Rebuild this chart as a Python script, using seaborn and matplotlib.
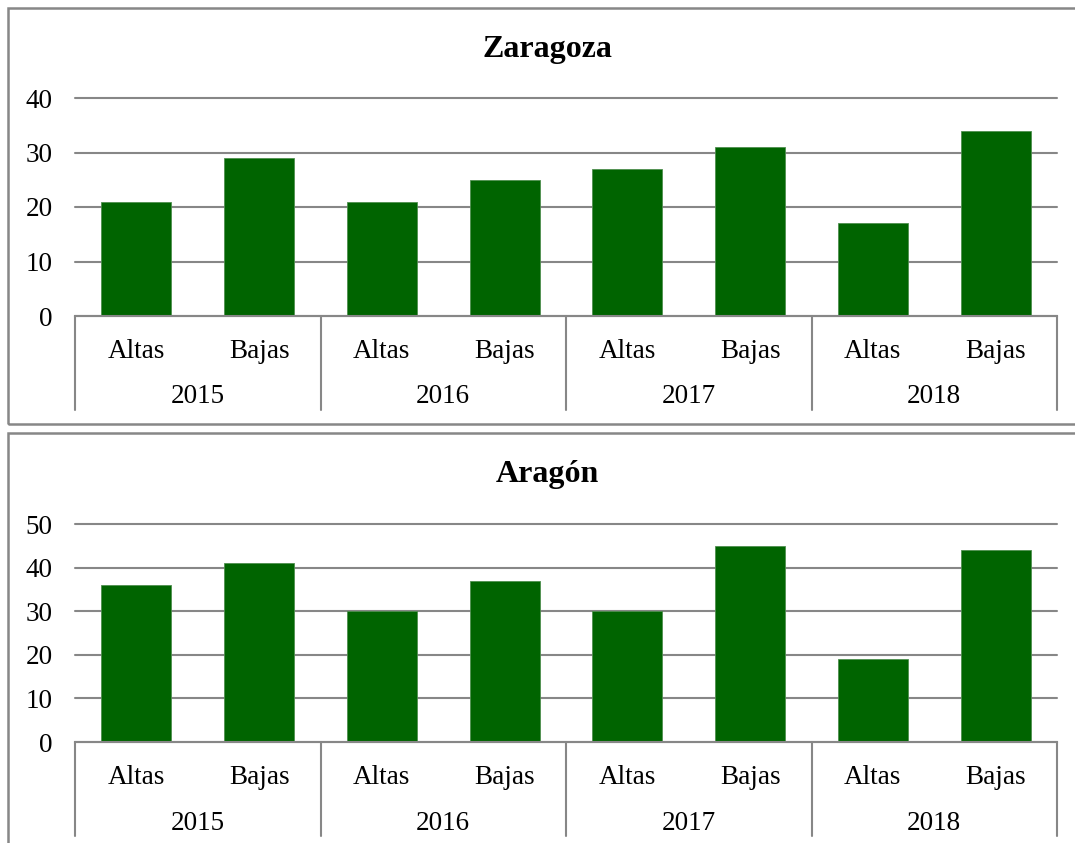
import matplotlib
matplotlib.use("Agg")
import matplotlib.pyplot as plt
import matplotlib.transforms as mtransforms
from matplotlib.patches import Rectangle
import pandas as pd
import seaborn as sns

# datos
anios = ["2015", "2016", "2017", "2018"]
tipos = ["Altas", "Bajas"]
zaragoza = [21, 29, 21, 25, 27, 31, 17, 34]
aragon = [36, 41, 30, 37, 30, 45, 19, 44]

sns.set_theme(style="white")
plt.rcParams["font.family"] = ["Liberation Serif", "DejaVu Serif"]

W, H = 1075, 843
fig = plt.figure(figsize=(W / 100, H / 100), dpi=100)
verde = "#006400"
gris = "#878787"


def px_axes(x0, y_top, x1, y_bot):
    return [x0 / W, 1 - y_bot / H, (x1 - x0) / W, (y_bot - y_top) / H]


def panel(rect, valores, titulo, ymax, title_y):
    df = pd.DataFrame({
        "cat": [a + " " + t for a in anios for t in tipos],
        "valor": valores,
    })
    ax = fig.add_axes(rect)
    sns.barplot(data=df, x="cat", y="valor", color=verde, width=0.57,
                saturation=1, ax=ax, edgecolor="#4f8f4f", linewidth=0.6)
    ax.set_xlim(-0.5, len(df) - 0.5)
    ax.set_ylim(0, ymax)
    ax.set_yticks(range(0, ymax + 1, 10))
    ax.yaxis.grid(True, color=gris, linewidth=1.5)
    for gl in ax.get_ygridlines():
        gl.set_clip_on(False)
    ax.set_axisbelow(True)
    for s in ["top", "right", "left"]:
        ax.spines[s].set_visible(False)
    ax.spines["bottom"].set_color(gris)
    ax.spines["bottom"].set_linewidth(1.5)
    ax.set_xlabel("")
    ax.set_ylabel("")
    ax.set_xticks([])
    ax.tick_params(axis="y", length=0, pad=16, labelsize=19.5, labelcolor="black")

    axh = rect[3] * H  # altura del eje en px
    tr = mtransforms.blended_transform_factory(ax.transData, ax.transAxes)
    for i, cat in enumerate(df["cat"]):
        ax.text(i, -35 / axh, cat.split()[1], transform=tr, ha="center",
                va="center", fontsize=19.5, color="black")
    for g, a in enumerate(anios):
        ax.text(g * 2 + 0.5, -81 / axh, a, transform=tr, ha="center",
                va="center", fontsize=19.5, color="black")
    for g in range(len(anios) + 1):
        ax.plot([g * 2 - 0.5, g * 2 - 0.5], [0, -94 / axh], transform=tr,
                color=gris, linewidth=1.5, clip_on=False)
    fig.text(547 / W, 1 - title_y / H, titulo, ha="center", va="center",
             fontsize=23, fontweight="bold", color="black")
    return ax


panel(px_axes(75, 98, 1057, 316), zaragoza, "Zaragoza", 40, 49)
panel(px_axes(75, 524, 1057, 742), aragon, "Aragón", 50, 475)

# marcos de cada grafico
for y_top, y_bot in [(8, 424), (433, 860)]:
    fig.patches.append(Rectangle((8 / W, 1 - y_bot / H), 1.1, (y_bot - y_top) / H,
                                 transform=fig.transFigure, fill=False,
                                 edgecolor=gris, linewidth=1.8, clip_on=False))

fig.savefig("out.png", dpi=100, facecolor="white")
